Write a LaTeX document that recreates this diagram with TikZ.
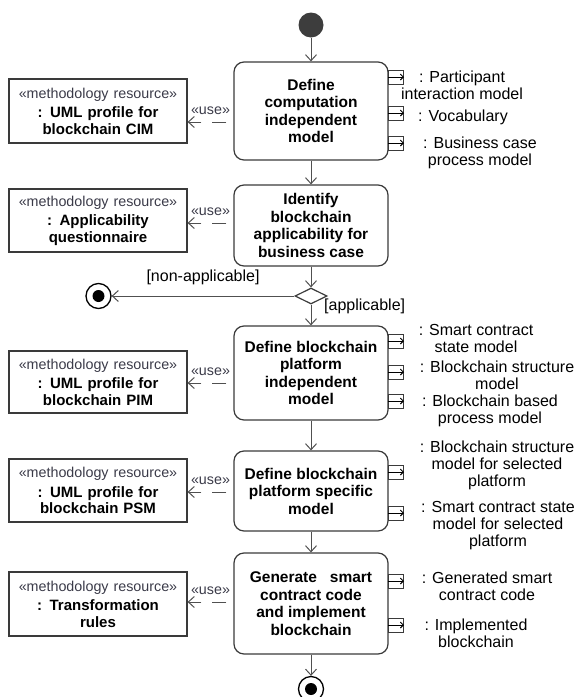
\documentclass[tikz,border=0pt]{standalone}
\usepackage{fontspec}
\setmainfont{Liberation Sans}
\usetikzlibrary{arrows.meta,shapes.geometric}
\definecolor{edgec}{HTML}{505050}
\definecolor{framec}{HTML}{3A3A3A}
\definecolor{stereoc}{HTML}{3A3A48}
\definecolor{startc}{HTML}{3D3D3D}
\newcommand\actfont{\fontsize{15.5}{17.5}\selectfont\bfseries}
\newcommand\labfont{\fontsize{16}{17}\selectfont}
\newcommand\stfont{\fontsize{14.3}{16}\selectfont\mdseries\color{stereoc}}
\newcommand\resfont{\fontsize{15}{16.5}\selectfont\bfseries}
\begin{document}
\begin{tikzpicture}[x=1pt,y=-1pt,
  act/.style={draw=framec, line width=1.2pt, rounded corners=10pt, minimum width=154pt, inner sep=0pt, align=center, font=\actfont},
  res/.style={draw=framec, line width=1.2pt, minimum width=178pt, inner sep=0pt, text width=176pt, align=center, font=\resfont},
  pinbox/.style={draw=framec, line width=1pt, minimum width=15pt, minimum height=14pt, inner sep=0pt, fill=white},
  pinarr/.style={draw=black, line width=0.9pt, -{Straight Barb[length=3pt,width=6pt]}},
  lab/.style={align=center, font=\labfont, inner sep=0pt},
  usel/.style={font=\stfont, inner sep=0pt},
  flow/.style={draw=edgec, line width=1pt, -{Straight Barb[length=6pt,width=11pt]}},
  usearr/.style={draw=edgec, line width=1pt, dash pattern=on 14pt off 11pt, dash phase=-7pt, -{Straight Barb[length=6pt,width=11pt]}},
  finalnode/.style={circle, draw=black, line width=1.3pt, fill=white, minimum size=25pt, inner sep=0pt,
     path picture={\fill[black] (path picture bounding box.center) circle (6pt);}}
]
\useasboundingbox (0,0) rectangle (577,697);

% start
\node[circle, fill=startc, minimum size=25pt, inner sep=0pt] (st) at (311,25) {};

% activities
\node[act, minimum height=98pt] (a1) at (311,111) {Define\\computation\\independent\\model};
\node[act, minimum height=81pt] (a2) at (311,225.5) {Identify\\blockchain\\applicability for\\business case};
\node[diamond, draw=framec, line width=1.2pt, minimum width=32pt, minimum height=16pt, inner sep=0pt, aspect=2] (dia) at (311,296) {};
\node[act, minimum height=94pt] (a3) at (311,373) {Define blockchain\\platform\\independent\\model};
\node[act, minimum height=80pt] (a4) at (311,491) {Define blockchain\\platform specific\\model};
\node[act, minimum height=101pt] (a5) at (311,603.5) {Generate\ \ \ smart\\contract code\\and implement\\blockchain};

\node[finalnode] (f1) at (98.5,296) {};
\node[finalnode] (f2) at (311,689) {};

% control flow
\draw[flow] (st) -- (a1);
\draw[flow] (a1) -- (a2);
\draw[flow] (a2) -- (dia);
\draw[flow] (dia) -- (a3);
\draw[flow] (a3) -- (a4);
\draw[flow] (a4) -- (a5);
\draw[flow] (a5) -- (f2);
\draw[flow] (dia) -- (f1) node[midway, above=11pt, lab] (nap) {[non-applicable]};
\node[lab, anchor=west] (app) at (324,306) {[applicable]};

% resources
\node[res, minimum height=64pt] (r1) at (98,111) {{\stfont «methodology resource»\par}\vspace{3pt}: UML profile for\\blockchain CIM};
\node[res, minimum height=63pt] (r2) at (98,220.5) {{\stfont «methodology resource»\par}\vspace{3pt}: Applicability\\questionnaire};
\node[res, minimum height=62pt] (r3) at (98,382) {{\stfont «methodology resource»\par}\vspace{3pt}: UML profile for\\blockchain PIM};
\node[res, minimum height=63pt] (r4) at (98,490.5) {{\stfont «methodology resource»\par}\vspace{3pt}: UML profile for\\blockchain PSM};
\node[res, minimum height=64pt] (r5) at (98,604) {{\stfont «methodology resource»\par}\vspace{3pt}: Transformation\\rules};

% use dependencies
\draw[usearr] (a1.west |- 0,122) -- (r1.east |- 0,122) node[midway, above=7pt, usel] {«use»};
\draw[usearr] (a2.west |- 0,223) -- (r2.east |- 0,223) node[midway, above=7pt, usel] {«use»};
\draw[usearr] (a3.west |- 0,383) -- (r3.east |- 0,383) node[midway, above=7pt, usel] {«use»};
\draw[usearr] (a4.west |- 0,492) -- (r4.east |- 0,492) node[midway, above=7pt, usel] {«use»};
\draw[usearr] (a5.west |- 0,602) -- (r5.east |- 0,602) node[midway, above=7pt, usel] {«use»};

% output pins
\foreach \n/\y in {p11/77, p12/113, p13/143, p31/341, p32/372, p33/401, p41/472, p42/513, p51/581, p52/625}{
  \node[pinbox] (\n) at (396,\y) {};
  \draw[pinarr] (\n.west) -- (\n.east);
}

% pin labels
\node[lab] (l11) at (462,85.5) {: Participant\\interaction model};
\node[lab] (l12) at (463,117) {: Vocabulary};
\node[lab] (l13) at (480,153) {: Business case\\process model};
\node[lab] (l31) at (476,338.5) {: Smart contract\\state model};
\node[lab] (l32) at (497,375.5) {: Blockchain structure\\model};
\node[lab] (l33) at (490,410.5) {: Blockchain based\\process model};
\node[lab] (l41) at (497,465) {: Blockchain structure\\model for selected\\platform};
\node[lab] (l42) at (498,526) {: Smart contract state\\model for selected\\platform};
\node[lab] (l51) at (487,586.5) {: Generated smart\\contract code};
\node[lab] (l52) at (476,633) {: Implemented\\blockchain};
\end{tikzpicture}
\end{document}
